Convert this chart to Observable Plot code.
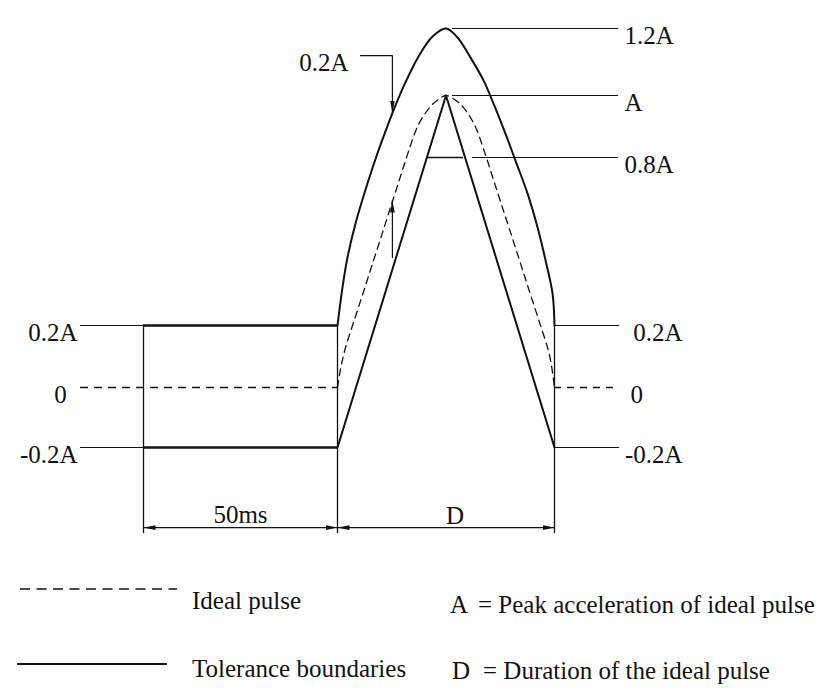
<!DOCTYPE html>
<html>
<head>
<meta charset="utf-8">
<script src="https://cdn.jsdelivr.net/npm/d3@7"></script>
<script src="https://cdn.jsdelivr.net/npm/@observablehq/plot@0.6"></script>
<style>
  body { margin: 0; background: #fff; }
  #wrap { width: 823px; height: 690px; background: #fff; color: #111;
          font-family: "Liberation Serif", "DejaVu Serif", serif; }
  #legend { display: block; }
  svg text { font-family: "Liberation Serif", "DejaVu Serif", serif; }
</style>
</head>
<body>
<div id="wrap"><div id="chart"></div><svg id="legend" width="823" height="120"></svg></div>
<script>
// ---- data (time in units of D, acceleration in units of A) ----
const levels = [-0.2, 0, 0.2, 0.8, 1.0, 1.2];

// ideal pulse (dashed)
const idealT = [0, 0.009, 0.018, 0.037, 0.074, 0.120, 0.166, 0.212, 0.253, 0.290, 0.327, 0.373, 0.429, 0.465, 0.5,
                0.539, 0.576, 0.631, 0.677, 0.714, 0.751, 0.793, 0.839, 0.885, 0.931, 0.968, 0.982, 0.991, 1.0];
const idealA = [0, 0.039, 0.074, 0.129, 0.211, 0.321, 0.432, 0.543, 0.643, 0.732, 0.819, 0.906, 0.965, 0.987, 1.0,
                0.987, 0.965, 0.906, 0.819, 0.732, 0.643, 0.543, 0.432, 0.321, 0.211, 0.129, 0.087, 0.048, 0];

// upper tolerance boundary
const upperT = [0, 0.023, 0.046, 0.083, 0.138, 0.184, 0.221, 0.258, 0.313, 0.373, 0.438, 0.5,
                0.553, 0.613, 0.673, 0.719, 0.774, 0.820, 0.876, 0.922, 0.959, 0.991, 1.0];
const upperA = [0.2, 0.336, 0.443, 0.564, 0.707, 0.813, 0.884, 0.952, 1.039, 1.116, 1.176, 1.2,
                1.173, 1.113, 1.045, 0.974, 0.877, 0.789, 0.671, 0.55, 0.432, 0.314, 0.2];

// lower tolerance boundary (triangle)
const lowerT = [0, 0.5, 1];
const lowerA = [-0.2, 1.0, -0.2];

// level labels
const sideLevels = [0.2, -0.2];
const sideLabels = ["0.2A", "-0.2A"];
const topLevels = [1.2, 1.0, 0.8];
const topLabels = ["1.2A", "A", "0.8A"];

// dimensions
const dimStart = [-0.894, 0];
const dimEnd = [0, 1];
const dimLabels = ["50ms", "D"];

// 0.2A spacing indicator (upper boundary to ideal pulse)
const gapT = 0.253;
const gapUpper = 0.945;
const gapIdeal = 0.646;

// legend
const legendItems = ["Ideal pulse", "Tolerance boundaries"];
const legendDefs = [["A", "= Peak acceleration of ideal pulse"], ["D", "= Duration of the ideal pulse"]];

// ---- tables ----
const idealRows = idealT.map((t, i) => ({t, a: idealA[i]}));
const upperRows = upperT.map((t, i) => ({t, a: upperA[i]}));
const lowerRows = lowerT.map((t, i) => ({t, a: lowerA[i]}));
const sideRows = sideLevels.map((v, i) => ({v, label: sideLabels[i]}));
const topRows = topLevels.map((v, i) => ({v, label: topLabels[i]}));
const dimRows = dimStart.map((s, i) => ({x1: s, x2: dimEnd[i], label: dimLabels[i]}));

const ink = "#111";
const dimY = -0.467;
const extY = -0.487;
const leftX = -1.184;
const rightX = 1.30;
const leaderX = 1.295;
const font = '"Liberation Serif", "DejaVu Serif", serif';
const txt = {fontSize: 25, fontFamily: font, fill: ink, lineAnchor: "middle"};

const plot = Plot.plot({
  width: 823,
  height: 570,
  margin: 0,
  x: {type: "linear", domain: [0, 1], range: [337, 554], axis: null},
  y: {type: "linear", domain: levels, range: [447, 387, 325, 157, 95, 28], axis: null},
  style: {fontFamily: font, fontSize: "25px", background: "#fff", color: ink},
  marks: [
    // left level lines
    Plot.ruleY(sideLevels, {x1: leftX, x2: dimStart[0], stroke: ink, strokeWidth: 1.2}),
    Plot.ruleY(sideLevels, {x1: dimStart[0], x2: 0, stroke: ink, strokeWidth: 2.4}),
    Plot.ruleY([0], {x1: leftX, x2: 0, stroke: ink, strokeWidth: 1.3, strokeDasharray: "8,6"}),
    // right level lines
    Plot.ruleY(sideLevels, {x1: 1, x2: rightX, stroke: ink, strokeWidth: 1.2}),
    Plot.ruleY([0], {x1: 1, x2: rightX, stroke: ink, strokeWidth: 1.3, strokeDasharray: "7,6"}),
    // top leaders
    Plot.ruleY([1.2, 1.0], {x1: 0.53, x2: leaderX, stroke: ink, strokeWidth: 1.2}),
    Plot.ruleY([0.8], {x1: 0.622, x2: leaderX, stroke: ink, strokeWidth: 1.2}),
    Plot.ruleY([0.8], {x1: 0.415, x2: 0.581, stroke: ink, strokeWidth: 1.6}),
    // extension lines
    Plot.ruleX([dimStart[0], 0, 1], {y1: 0.2, y2: extY, stroke: ink, strokeWidth: 1.3}),
    // dimension lines
    Plot.link(dimRows, {x1: "x1", x2: "x2", y1: dimY, y2: dimY, stroke: ink, strokeWidth: 1.2,
                        markerStart: "arrow", markerEnd: "arrow"}),
    Plot.text(dimRows.slice(0, 1), {...txt, x: d => (d.x1 + d.x2) / 2, y: dimY, text: "label", dy: -13}),
    Plot.text(dimRows.slice(1), {...txt, x: d => (d.x1 + d.x2) / 2, y: dimY, text: "label", dy: -12, dx: 9}),
    // curves
    Plot.line(lowerRows, {x: "t", y: "a", stroke: ink, strokeWidth: 2}),
    Plot.line(upperRows, {x: "t", y: "a", curve: "catmull-rom", stroke: ink, strokeWidth: 2}),
    Plot.line(idealRows, {x: "t", y: "a", curve: "catmull-rom", stroke: ink, strokeWidth: 1.3,
                          strokeDasharray: "7,5"}),
    // 0.2A spacing indicator
    Plot.line([{t: 0.106, a: 1.119}, {t: gapT, a: 1.119}, {t: gapT, a: gapUpper}],
              {x: "t", y: "a", stroke: ink, strokeWidth: 1.2, markerEnd: "arrow"}),
    Plot.line([{t: gapT, a: 0.443}, {t: gapT, a: gapIdeal}],
              {x: "t", y: "a", stroke: ink, strokeWidth: 1.2, markerEnd: "arrow"}),
    Plot.text(["0.2A"], {...txt, x: 0.106, y: 1.119, text: d => d, dx: -12, dy: 7, textAnchor: "end"}),
    // level labels
    Plot.text(sideRows, {...txt, x: leftX, y: "v", text: "label", dx: -3, dy: 7, textAnchor: "end"}),
    Plot.text(["0"], {...txt, x: leftX, y: 0, text: d => d, dx: -20, dy: 7, textAnchor: "middle"}),
    Plot.text(sideRows, {...txt, x: rightX, y: "v", text: "label", dx: 63, dy: 7, textAnchor: "end"}),
    Plot.text(["0"], {...txt, x: rightX, y: 0, text: d => d, dx: 11, dy: 7, textAnchor: "start"}),
    Plot.text(topRows, {...txt, x: leaderX, y: "v", text: "label", dx: 6, dy: 7, textAnchor: "start"})
  ]
});

// filled, slender arrowheads like the drawing
plot.querySelectorAll("marker").forEach(m => {
  m.setAttribute("viewBox", "-12 -3 12 6");
  m.setAttribute("markerUnits", "userSpaceOnUse");
  m.setAttribute("markerWidth", 12);
  m.setAttribute("markerHeight", 6);
  m.setAttribute("refX", 0);
  m.setAttribute("refY", 0);
  m.setAttribute("orient", "auto-start-reverse");
  m.setAttribute("fill", ink);
  m.setAttribute("stroke", "none");
  m.querySelectorAll("path").forEach(p => p.setAttribute("d", "M-12,-2.4L0,0L-12,2.4Z"));
});
document.getElementById("chart").appendChild(plot);

// legend below the chart
const lg = d3.select("#legend").style("font-family", font).style("font-size", "25px");
lg.append("line").attr("x1", 20).attr("x2", 177).attr("y1", 19).attr("y2", 19)
  .attr("stroke", ink).attr("stroke-width", 1.3).attr("stroke-dasharray", "10,6.5");
lg.append("line").attr("x1", 17).attr("x2", 167).attr("y1", 94).attr("y2", 94)
  .attr("stroke", ink).attr("stroke-width", 2);
lg.selectAll("text.item").data(legendItems).join("text").attr("class", "item")
  .attr("x", 192).attr("y", (d, i) => i ? 107 : 39).attr("fill", ink).text(d => d);
lg.selectAll("text.sym").data(legendDefs).join("text").attr("class", "sym")
  .attr("x", (d, i) => i ? 452 : 450).attr("y", (d, i) => i ? 109 : 43).attr("fill", ink).text(d => d[0]);
lg.selectAll("text.def").data(legendDefs).join("text").attr("class", "def")
  .attr("x", (d, i) => i ? 483 : 478).attr("y", (d, i) => i ? 109 : 43).attr("fill", ink).text(d => d[1]);
</script>
</body>
</html>
